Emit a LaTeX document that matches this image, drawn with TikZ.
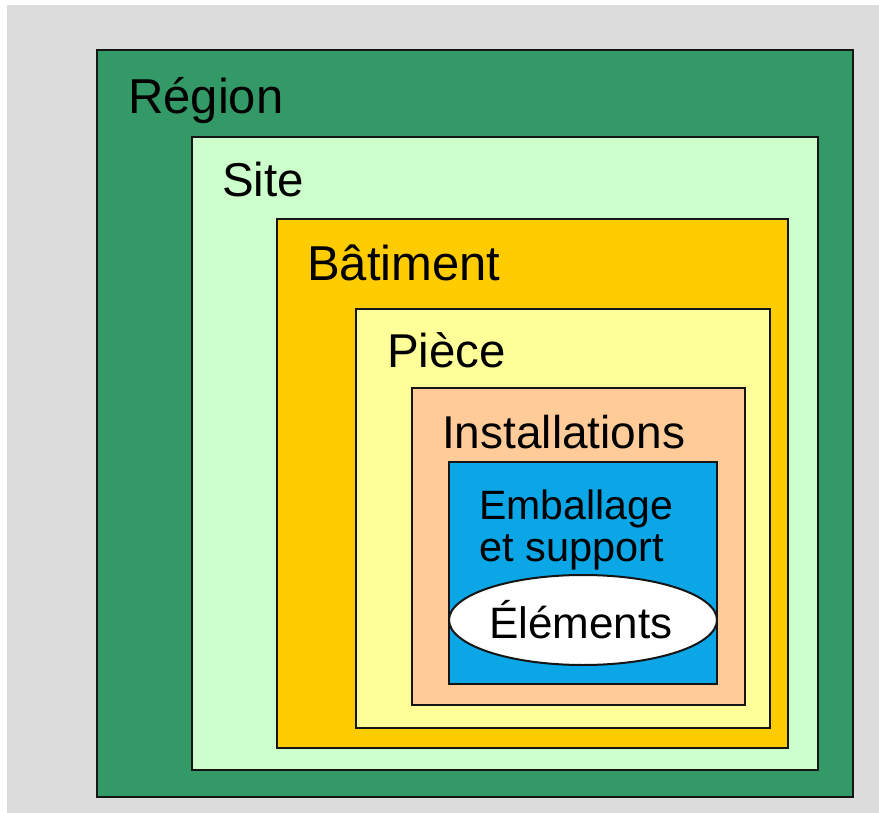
\documentclass[tikz,border=0pt]{standalone}
\usepackage{fontspec}
\setmainfont{Liberation Sans}
\usetikzlibrary{shapes.geometric}
\definecolor{bg}{HTML}{DCDCDC}
\definecolor{regionc}{HTML}{339966}
\definecolor{sitec}{HTML}{CCFFCC}
\definecolor{batc}{HTML}{FFCC00}
\definecolor{piecec}{HTML}{FFFF99}
\definecolor{instc}{HTML}{FFCC99}
\definecolor{embc}{HTML}{0AA6E6}
\definecolor{edge}{HTML}{151515}
\tikzset{
  boxc/.style={draw=edge, line width=2pt},
  lbl/.style={inner sep=0pt, anchor=base west, text=black},
}
\begin{document}
\begin{tikzpicture}[x=1pt,y=-1pt]
\fill[white] (0,0) rectangle (879,813);
\fill[bg] (7,5) rectangle (879,813);
\useasboundingbox (0,0) rectangle (879,813);
\filldraw[boxc, fill=regionc] (97,50) rectangle (853,797);
\filldraw[boxc, fill=sitec] (192,137) rectangle (818,770);
\filldraw[boxc, fill=batc] (277,219) rectangle (788,748);
\filldraw[boxc, fill=piecec] (356,309) rectangle (770,728);
\filldraw[boxc, fill=instc] (412,388) rectangle (745,705);
\filldraw[boxc, fill=embc] (449,462) rectangle (717,684);
\node[boxc, ellipse, fill=white, minimum width=268pt, minimum height=90pt, inner sep=0pt] (elem) at (583,620) {};
\node[lbl, font=\fontsize{49}{50}\selectfont] (region) at (128,114) {Région};
\node[lbl, font=\fontsize{47.5}{50}\selectfont] (site) at (222,197) {Site};
\node[lbl, font=\fontsize{49}{50}\selectfont] (bat) at (307,281) {Bâtiment};
\node[lbl, font=\fontsize{47.5}{50}\selectfont] (piece) at (387,367) {Pièce};
\node[lbl, font=\fontsize{46}{50}\selectfont] (inst) at (442,448) {Installations};
\node[lbl, font=\fontsize{41}{50}\selectfont] (emb1) at (479,519) {Emballage};
\node[lbl, font=\fontsize{41.5}{50}\selectfont] (emb2) at (479,561) {et support};
\node[lbl, font=\fontsize{44}{50}\selectfont] (elemt) at (489,638) {Éléments};
\end{tikzpicture}
\end{document}
